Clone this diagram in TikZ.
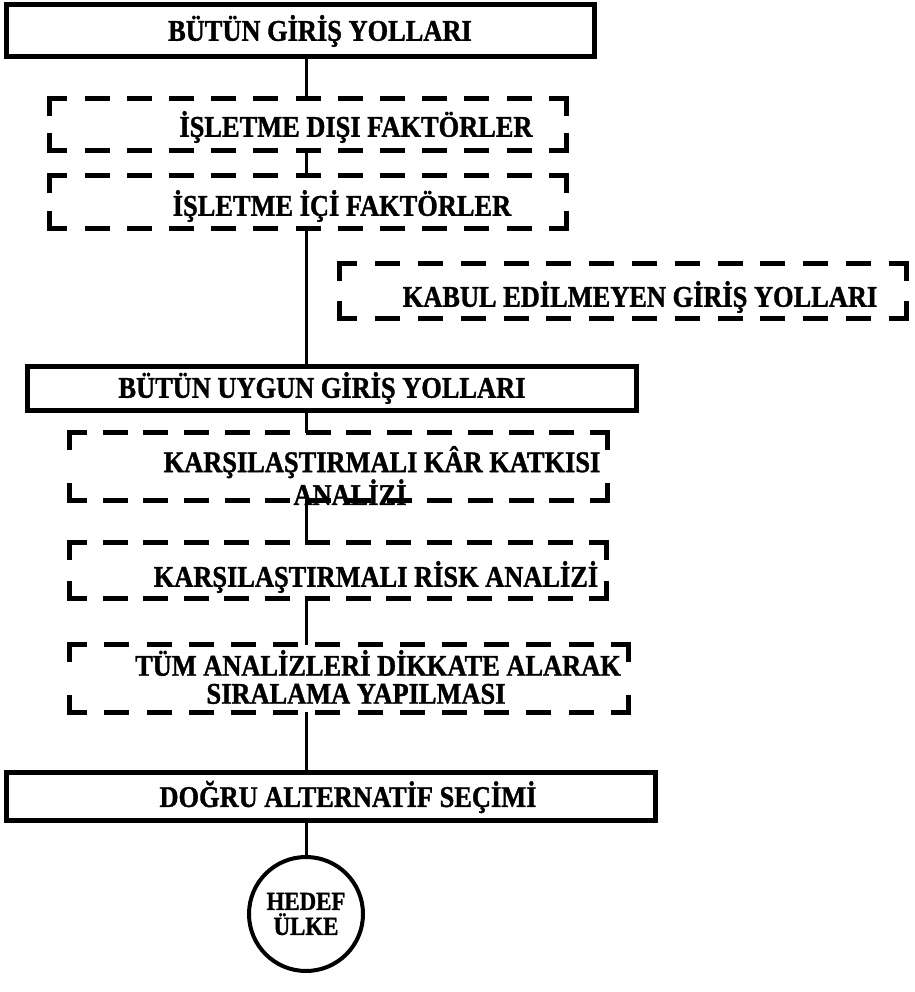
\documentclass[tikz,border=0pt]{standalone}
\usepackage{fontspec}
\setmainfont{Liberation Serif}[FakeStretch=0.88, BoldFeatures={FakeBold=1.2}]
\newcommand\dDash{20}
\newcommand\dGap{22}
\newcommand\dCor{15}
\newcommand\dside[4]{%
  \pgfmathsetmacro\dL{veclen((#3)-(#1),(#4)-(#2))}%
  \pgfmathsetmacro\dN{max(0,round((\dL-2*\dCor-\dGap)/(\dDash+\dGap)))}%
  \pgfmathsetmacro\dG{(\dL-2*\dCor-\dN*\dDash)/(\dN+1)}%
  \pgfmathsetmacro\dP{\dDash-\dCor}%
  \draw[dline, dash pattern=on \dDash pt off \dG pt, dash phase=\dP pt] (#1 pt,#2 pt) -- (#3 pt,#4 pt);%
}
\newcommand\dborder[1]{%
  \pgfpointanchor{#1}{south west}\pgfgetlastxy\dtmpx\dtmpy
  \pgfmathsetmacro\dxa{\dtmpx}\pgfmathsetmacro\dya{\dtmpy}%
  \pgfpointanchor{#1}{north east}\pgfgetlastxy\dtmpx\dtmpy
  \pgfmathsetmacro\dxb{\dtmpx}\pgfmathsetmacro\dyb{\dtmpy}%
  \dside{\dxa}{\dyb}{\dxb}{\dyb}%
  \dside{\dxa}{\dya}{\dxb}{\dya}%
  \dside{\dxa}{\dya}{\dxa}{\dyb}%
  \dside{\dxb}{\dya}{\dxb}{\dyb}%
}
\tikzset{
  sbox/.style={draw, line width=5pt, rectangle, inner sep=0pt},
  dbox/.style={draw=none, rectangle, inner sep=0pt},
  lbl/.style={font=\bfseries\fontsize{30}{28}\selectfont, inner sep=0pt, align=center},
  conn/.style={line width=3pt},
  dline/.style={line width=5pt, line cap=rect},
  goalstyle/.style={draw, circle, line width=4pt, minimum size=114pt, inner sep=0pt,
    font=\bfseries\fontsize{26}{25}\selectfont, align=center}
}
\begin{document}
\begin{tikzpicture}[x=1pt,y=-1pt]
\useasboundingbox (0,0) rectangle (914,992);
\coordinate (ax) at (306,0);
% boxes
\node[sbox, minimum width=588pt, minimum height=52pt] (b1) at (300,31) {};
\node[lbl] (t1) at (320,31) {BÜTÜN GİRİŞ YOLLARI};
\node[dbox, minimum width=516pt, minimum height=51pt] (b2) at (308,124.5) {};
\node[lbl] (t2) at (356,127) {İŞLETME DIŞI FAKTÖRLER};
\node[dbox, minimum width=516pt, minimum height=52pt] (b3) at (308,202) {};
\node[lbl] (t3) at (342,206) {İŞLETME İÇİ FAKTÖRLER};
\node[dbox, minimum width=566pt, minimum height=54pt] (b5) at (623,291) {};
\node[lbl] (t5) at (640,297) {KABUL EDİLMEYEN GİRİŞ YOLLARI};
\node[sbox, minimum width=609pt, minimum height=44pt] (b4) at (331.5,388) {};
\node[lbl] (t4) at (322,388) {BÜTÜN UYGUN GİRİŞ YOLLARI};
\node[dbox, minimum width=537pt, minimum height=67pt] (b6) at (338.5,466.5) {};
\node[lbl, font=\bfseries\fontsize{30}{27}\selectfont] (t6) at (382,475.5)
  {KARŞILAŞTIRMALI KÂR KATKISI\\ANALİZİ\hspace*{64pt}};
\node[dbox, minimum width=536pt, minimum height=55pt] (b7) at (338,570.5) {};
\node[lbl] (t7) at (376,577) {KARŞILAŞTIRMALI RİSK ANALİZİ};
\node[dbox, minimum width=558pt, minimum height=67pt] (b8) at (349,678.5) {};
\node[lbl] (t8) at (378,677)
  {TÜM ANALİZLERİ DİKKATE ALARAK\\SIRALAMA YAPILMASI\hspace*{44pt}};
\node[sbox, minimum width=649pt, minimum height=48pt] (b9) at (330.5,796) {};
\node[lbl] (t9) at (348,797) {DOĞRU ALTERNATİF SEÇİMİ};
\node[goalstyle] (goal) at (306,914) {HEDEF\\ÜLKE};
% dashed borders
\dborder{b2}
\dborder{b3}
\dborder{b5}
\dborder{b6}
\dborder{b7}
\dborder{b8}
% connectors
\draw[conn] (b1.south -| ax) -- (b2.north -| ax);
\draw[conn] (b2.south -| ax) -- (b3.north -| ax);
\draw[conn] (b3.south -| ax) -- (b4.north -| ax);
\draw[conn] (b4.south -| ax) -- (b6.north -| ax);
\draw[conn] (b6.south -| ax) -- (b7.north -| ax);
\draw[conn] (b7.south -| ax) -- (b8.north -| ax);
\draw[conn] (b8.south -| ax) -- (b9.north -| ax);
\draw[conn] (b9.south -| ax) -- (goal.north);
\end{tikzpicture}
\end{document}
